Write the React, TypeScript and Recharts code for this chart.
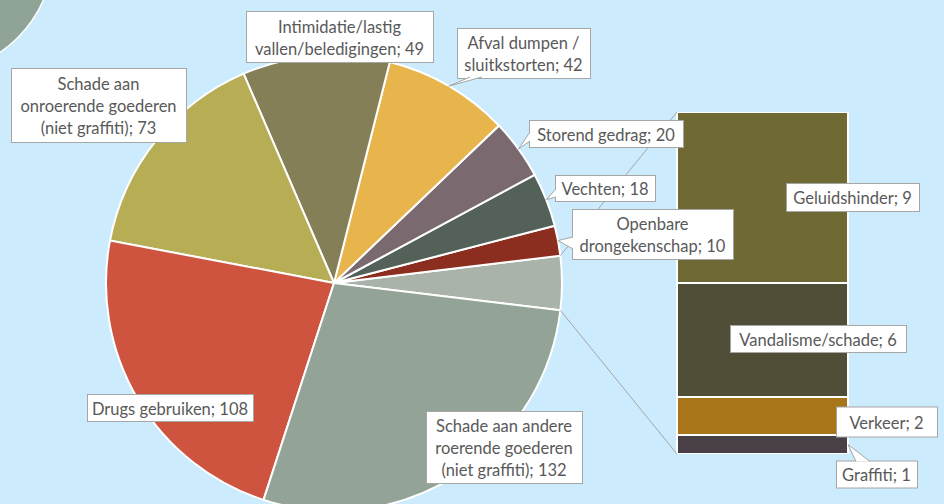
import React from 'react';
import { PieChart, Pie, Cell, BarChart, Bar, XAxis, YAxis, LabelList } from 'recharts';

const W = 944;
const H = 504;
const BG = '#CCEBFC';
const TEXT = '#595959';
const BORDER = '#A6A6A6';
const FONT = 'Lato, "Open Sans", sans-serif';

// slices of the pie (counter-clockwise from the "other" slice)
const sliceNames = [
  'Openbare\ndrongekenschap',
  'Vechten',
  'Storend gedrag',
  'Afval dumpen /\nsluitkstorten',
  'Intimidatie/lastig\nvallen/beledigingen',
  'Schade aan\nonroerende goederen\n(niet graffiti)',
  'Drugs gebruiken',
  'Schade aan andere\nroerende goederen\n(niet graffiti)',
];
const sliceValues = [10, 18, 20, 42, 49, 73, 108, 132];
const sliceColors = ['#8B2E1F', '#536158', '#7A6A70', '#E8B44C', '#857F58', '#B6AD55', '#CF5440', '#93A397'];
const otherColor = '#A9B3A9';

// the stacked bar the "other" slice opens into (bottom to top)
const barNames = ['Graffiti', 'Verkeer', 'Vandalisme/schade', 'Geluidshinder'];
const barValues = [1, 2, 6, 9];
const barColors = ['#484046', '#A87619', '#514E37', '#6F6A33'];

const otherTotal = barValues.reduce((a, b) => a + b, 0);
const pieData = [
  { name: 'Overig', value: otherTotal, color: otherColor },
  ...sliceNames.map((name, i) => ({ name, value: sliceValues[i], color: sliceColors[i] })),
];
const pieTotal = pieData.reduce((a, d) => a + d.value, 0);
const halfOther = (otherTotal / pieTotal) * 180;

const barRow: Record<string, number | string> = { cat: 'Overig' };
barNames.forEach((n, i) => (barRow[n] = barValues[i]));

// layout
const PIE = { cx: 334, cy: 283, r: 228 };
const BAR = { left: 677, right: 848, top: 112, bottom: 454 };

type Ptr = [string, number, number];
const pieLabelBoxes: Record<string, { x: number; y: number; w: number; h: number; ptr?: Ptr }> = {
  'Openbare\ndrongekenschap': { x: 572, y: 209, w: 161, h: 50, ptr: ['left', 28, 40] },
  Vechten: { x: 555, y: 175, w: 100, h: 26, ptr: ['left', 14, 22] },
  'Storend gedrag': { x: 529, y: 120, w: 154, h: 27, ptr: ['left', 12, 21] },
  'Afval dumpen /\nsluitkstorten': { x: 457, y: 28, w: 133, h: 50, ptr: ['bottom', 13, 25] },
  'Intimidatie/lastig\nvallen/beledigingen': { x: 246, y: 11, w: 187, h: 51 },
  'Schade aan\nonroerende goederen\n(niet graffiti)': { x: 11, y: 68, w: 175, h: 74 },
  'Drugs gebruiken': { x: 87, y: 394, w: 166, h: 27 },
  'Schade aan andere\nroerende goederen\n(niet graffiti)': { x: 426, y: 411, w: 156, h: 72 },
};

// bar labels: centre offset from the segment's right edge midpoint
const barLabelBoxes: Record<string, { dx: number; dy: number; w: number; h: number; ptr?: Ptr }> = {
  Geluidshinder: { dx: 4.5, dy: -0.5, w: 133, h: 28 },
  'Vandalisme/schade': { dx: -30, dy: -1.5, w: 176, h: 27 },
  Verkeer: { dx: 38.5, dy: 5.5, w: 101, h: 30 },
  Graffiti: { dx: 28.5, dy: 29.5, w: 81, h: 27, ptr: ['top', 20, 34] },
};

const RAD = Math.PI / 180;
const polar = (cx: number, cy: number, r: number, angle: number) => ({
  x: cx + r * Math.cos(angle * RAD),
  y: cy - r * Math.sin(angle * RAD),
});

function Callout({ box, lines, tip, ptr }: any) {
  const mx = box.x + box.w / 2;
  const my = box.y + box.h / 2;
  let wedge = null;
  if (ptr && tip) {
    const [side, a, b] = ptr;
    let p1;
    let p2;
    if (side === 'left') {
      p1 = [box.x + 1, box.y + a];
      p2 = [box.x + 1, box.y + b];
    } else if (side === 'bottom') {
      p1 = [box.x + a, box.y + box.h - 1];
      p2 = [box.x + b, box.y + box.h - 1];
    } else {
      p1 = [box.x + a, box.y + 1];
      p2 = [box.x + b, box.y + 1];
    }
    wedge = (
      <path
        d={`M${p1[0]},${p1[1]} L${tip.x},${tip.y} L${p2[0]},${p2[1]}`}
        fill="#fff"
        stroke={BORDER}
        strokeWidth={1}
      />
    );
  }
  return (
    <g>
      <rect x={box.x + 0.5} y={box.y + 0.5} width={box.w} height={box.h} fill="#fff" stroke={BORDER} strokeWidth={1} />
      {wedge}
      <text fill={TEXT} fontSize={16.5} fontFamily={FONT} textAnchor="middle" dominantBaseline="central">
        {lines.map((l: string, i: number) => (
          <tspan key={i} x={mx} y={my + 1 + (i - (lines.length - 1) / 2) * 22}>
            {l}
          </tspan>
        ))}
      </text>
    </g>
  );
}

const renderPieLabel = (props: any) => {
  const { cx, cy, outerRadius, startAngle, endAngle, midAngle, index } = props;
  const d = pieData[index];
  if (index === 0) {
    // connector lines from the "other" slice to the bar
    const top = polar(cx, cy, outerRadius, endAngle);
    const bottom = polar(cx, cy, outerRadius, startAngle);
    return (
      <g>
        <line x1={top.x} y1={top.y} x2={BAR.left} y2={BAR.top} stroke={BORDER} strokeWidth={1} />
        <line x1={bottom.x} y1={bottom.y} x2={BAR.left} y2={BAR.bottom} stroke={BORDER} strokeWidth={1} />
      </g>
    );
  }
  const box = pieLabelBoxes[d.name];
  const lines = d.name.split('\n');
  lines[lines.length - 1] += `; ${d.value}`;
  const tip = polar(cx, cy, outerRadius, midAngle);
  return <Callout box={box} lines={lines} tip={tip} ptr={box.ptr} />;
};

const renderBarLabel = (name: string) => (p: any) => {
  const vb = p.viewBox ?? p;
  const { x, y, width, height } = vb;
  const L = barLabelBoxes[name];
  const ax = x + width;
  const ay = y + height / 2;
  const box = { x: ax + L.dx - L.w / 2, y: ay + L.dy - L.h / 2, w: L.w, h: L.h };
  const value = barValues[barNames.indexOf(name)];
  return <Callout box={box} lines={[`${name}; ${value}`]} tip={{ x: ax, y: ay }} ptr={L.ptr} />;
};

export default function App() {
  return (
    <div style={{ position: 'absolute', left: 0, top: 0, width: W, height: H, background: BG, overflow: 'hidden' }}>
      <svg width={W} height={H} style={{ position: 'absolute', left: 0, top: 0 }}>
        <circle cx={-70} cy={-50} r={124} fill="#8FA396" stroke="#fff" strokeWidth={1.5} />
      </svg>
      <div style={{ position: 'absolute', left: 0, top: 0 }}>
        <BarChart
          width={W}
          height={H}
          data={[barRow]}
          margin={{ top: BAR.top, bottom: H - BAR.bottom, left: BAR.left, right: W - BAR.right }}
          barCategoryGap={0}
        >
          <XAxis dataKey="cat" hide />
          <YAxis hide type="number" domain={[0, otherTotal]} allowDataOverflow />
          {barNames.map((n, i) => (
            <Bar key={n} dataKey={n} stackId="s" fill={barColors[i]} stroke="#fff" strokeWidth={2} isAnimationActive={false}>
              <LabelList dataKey={n} content={renderBarLabel(n)} />
            </Bar>
          ))}
        </BarChart>
      </div>
      <div style={{ position: 'absolute', left: 0, top: 0 }}>
        <PieChart width={W} height={H} margin={{ top: 0, right: 0, bottom: 0, left: 0 }}>
          <Pie
            data={pieData}
            dataKey="value"
            nameKey="name"
            cx={PIE.cx}
            cy={PIE.cy}
            outerRadius={PIE.r}
            startAngle={-halfOther}
            endAngle={360 - halfOther}
            stroke="#fff"
            strokeWidth={2}
            label={renderPieLabel}
            labelLine={false}
            isAnimationActive={false}
          >
            {pieData.map((d) => (
              <Cell key={d.name} fill={d.color} />
            ))}
          </Pie>
        </PieChart>
      </div>
    </div>
  );
}
